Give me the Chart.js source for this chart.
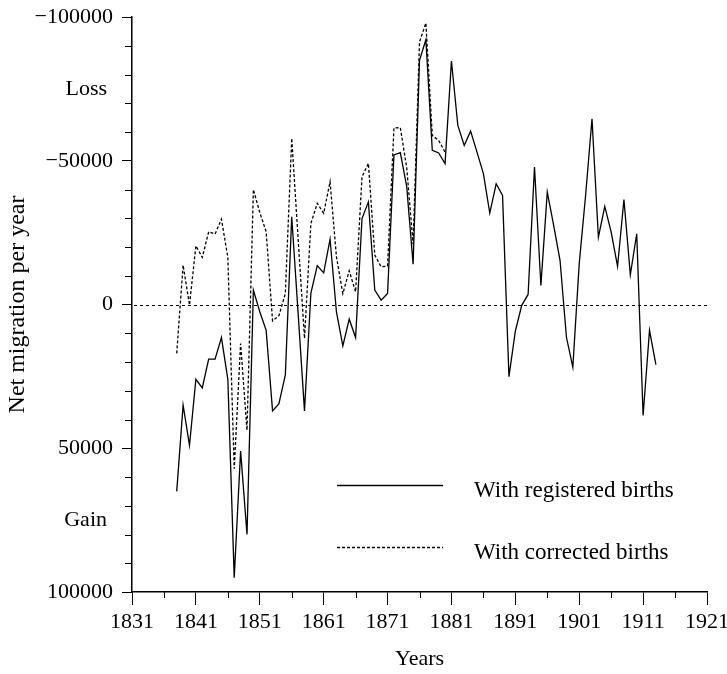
<!DOCTYPE html>
<html>
<head>
<meta charset="utf-8">
<script src="https://cdn.jsdelivr.net/npm/chart.js@4/dist/chart.umd.min.js"></script>
<style>
html,body{margin:0;padding:0;background:#fff;}
#wrap{width:727px;height:674px;}
</style>
</head>
<body>
<div id="wrap"><canvas id="c" width="727" height="674"></canvas></div>
<script>
// ---- data ----
const registeredYears = [1838,1839,1840,1841,1842,1843,1844,1845,1846,1847,1848,1849,1850,1851,1852,1853,1854,1855,1856,1857,1858,1859,1860,1861,1862,1863,1864,1865,1866,1867,1868,1869,1870,1871,1872,1873,1874,1875,1876,1877,1878,1879,1880,1881,1882,1883,1884,1885,1886,1887,1888,1889,1890,1891,1892,1893,1894,1895,1896,1897,1898,1899,1900,1901,1902,1903,1904,1905,1906,1907,1908,1909,1910,1911,1912,1913];
const registeredValues = [65000,35000,49000,26000,29000,19000,19000,11500,26000,95000,51000,80000,-5000,2500,9000,37000,34500,24500,-30500,3000,37000,-4000,-13500,-11000,-22700,2600,14400,5100,11500,-29900,-35700,-5000,-1500,-3800,-52000,-52800,-41000,-14000,-84900,-92100,-53600,-52700,-49000,-84700,-62300,-55300,-60300,-53000,-45500,-31800,-42000,-37900,25100,9300,300,-3500,-47800,-6600,-39100,-27500,-15300,11400,21800,-14200,-38000,-64600,-23400,-34100,-25200,-13300,-36500,-10300,-24600,38600,9000,20900];
const correctedYears = [1838,1839,1840,1841,1842,1843,1844,1845,1846,1847,1848,1849,1850,1851,1852,1853,1854,1855,1856,1857,1858,1859,1860,1861,1862,1863,1864,1865,1866,1867,1868,1869,1870,1871,1872,1873,1874,1875,1876,1877,1878,1879,1880];
const correctedValues = [17000,-13700,200,-20400,-16400,-25300,-24500,-29700,-16400,57100,13600,43700,-40000,-32000,-25300,5700,3900,-3800,-57800,-23000,11800,-28200,-35200,-31700,-42700,-16600,-3800,-11700,-4400,-44400,-49100,-17200,-13100,-13400,-61400,-61500,-47500,-21000,-91300,-97900,-58800,-57100,-53000];
const seriesNames = ['With registered births','With corrected births'];

const xTickValues = [1831,1841,1851,1861,1871,1881,1891,1901,1911,1921];
const xMinorTicks = [1836,1846,1856,1866,1876,1886,1896,1906,1916];
const yTickValues = [-100000,-50000,0,50000,100000];
const yMinorTicks = [-90000,-80000,-70000,-60000,-40000,-30000,-20000,-10000,10000,20000,30000,40000,60000,70000,80000,90000];
const sideLabelTexts = ['Loss','Gain'];
const sideLabelValues = [-75000,75000];

// ---- styling ----
const FONT = '"Liberation Serif","Times New Roman",Times,serif';
const FS = 22;
const FS_LEGEND = 23;
const FS_YTITLE = 24;

const extrasPlugin = {
  id: 'extras',
  beforeDatasetsDraw(chart) {
    const ctx = chart.ctx, ys = chart.scales.y, area = chart.chartArea;
    const py = Math.round(ys.getPixelForValue(0)) + 0.5;
    ctx.save();
    ctx.strokeStyle = '#000';
    ctx.lineWidth = 1;
    ctx.setLineDash([3, 3]);
    ctx.beginPath();
    ctx.moveTo(area.left + 2, py);
    ctx.lineTo(area.right, py);
    ctx.stroke();
    ctx.restore();
  },
  afterDraw(chart) {
    const ctx = chart.ctx, xs = chart.scales.x, ys = chart.scales.y;
    const area = chart.chartArea;
    ctx.save();
    ctx.strokeStyle = '#000';
    ctx.lineWidth = 1;
    ctx.beginPath();
    xMinorTicks.forEach(v => {
      const px = Math.round(xs.getPixelForValue(v)) + 0.5;
      ctx.moveTo(px, area.bottom);
      ctx.lineTo(px, area.bottom + 6);
    });
    yMinorTicks.forEach(v => {
      const py = Math.round(ys.getPixelForValue(v)) + 0.5;
      ctx.moveTo(area.left, py);
      ctx.lineTo(area.left - 7, py);
    });
    ctx.stroke();
    // Loss / Gain labels
    ctx.fillStyle = '#000';
    ctx.font = FS + 'px ' + FONT;
    ctx.textAlign = 'right';
    ctx.textBaseline = 'middle';
    sideLabelTexts.forEach((t, i) => {
      ctx.fillText(t, 107, ys.getPixelForValue(sideLabelValues[i]));
    });
    // legend
    const legendRows = [485, 547];
    ctx.font = FS_LEGEND + 'px ' + FONT;
    chart.data.datasets.forEach((ds, i) => {
      const y = legendRows[i] + 0.5;
      ctx.beginPath();
      ctx.setLineDash(ds.borderDash || []);
      ctx.lineWidth = ds.borderWidth;
      ctx.moveTo(337, y);
      ctx.lineTo(443, y);
      ctx.stroke();
      ctx.setLineDash([]);
      ctx.textAlign = 'left';
      ctx.textBaseline = 'alphabetic';
      ctx.fillText(ds.label, 474, legendRows[i] + 12);
    });
    ctx.restore();
  }
};

const toPoints = (xs, ys) => xs.map((x, i) => ({x: x, y: ys[i]}));

new Chart(document.getElementById('c'), {
  type: 'line',
  data: {
    datasets: [
      {label: seriesNames[0], data: toPoints(registeredYears, registeredValues), borderColor: '#000', borderWidth: 1.3, pointRadius: 0, tension: 0, fill: false},
      {label: seriesNames[1], data: toPoints(correctedYears, correctedValues), borderColor: '#000', borderWidth: 1.3, borderDash: [3, 2], pointRadius: 0, tension: 0, fill: false}
    ]
  },
  options: {
    responsive: false,
    animation: false,
    devicePixelRatio: 1,
    layout: {padding: {left: 0, right: 20, top: 17, bottom: 0}},
    plugins: {legend: {display: false}, tooltip: {enabled: false}},
    scales: {
      x: {
        type: 'linear', min: 1831, max: 1921,
        afterBuildTicks: s => { s.ticks = xTickValues.map(v => ({value: v})); },
        afterFit: s => { s.height = 82; s.paddingLeft = 0; s.paddingRight = 0; },
        ticks: {color: '#000', font: {family: FONT, size: FS}, padding: 4, maxRotation: 0, autoSkip: false, callback: v => String(v)},
        grid: {drawOnChartArea: false, drawTicks: true, tickLength: 13, tickColor: '#000', tickWidth: 1},
        border: {display: true, color: '#000', width: 1.5},
        title: {display: true, text: 'Years', color: '#000', font: {family: FONT, size: FS}, padding: {top: 0, bottom: 2}}
      },
      y: {
        type: 'linear', reverse: true, min: -100000, max: 100000,
        afterBuildTicks: s => { s.ticks = yTickValues.map(v => ({value: v})); },
        afterFit: s => { s.width = 132; s.paddingTop = 0; s.paddingBottom = 0; },
        ticks: {color: '#000', font: {family: FONT, size: FS}, padding: 9, autoSkip: false, callback: v => v < 0 ? '\u2212' + Math.abs(v) : String(v)},
        grid: {drawOnChartArea: false, drawTicks: true, tickLength: 10, tickColor: '#000', tickWidth: 1},
        border: {display: true, color: '#000', width: 1.5},
        title: {display: true, text: 'Net migration per year', color: '#000', font: {family: FONT, size: FS_YTITLE}, padding: {top: 3, bottom: 0}}
      }
    }
  },
  plugins: [extrasPlugin]
});
</script>
</body>
</html>
